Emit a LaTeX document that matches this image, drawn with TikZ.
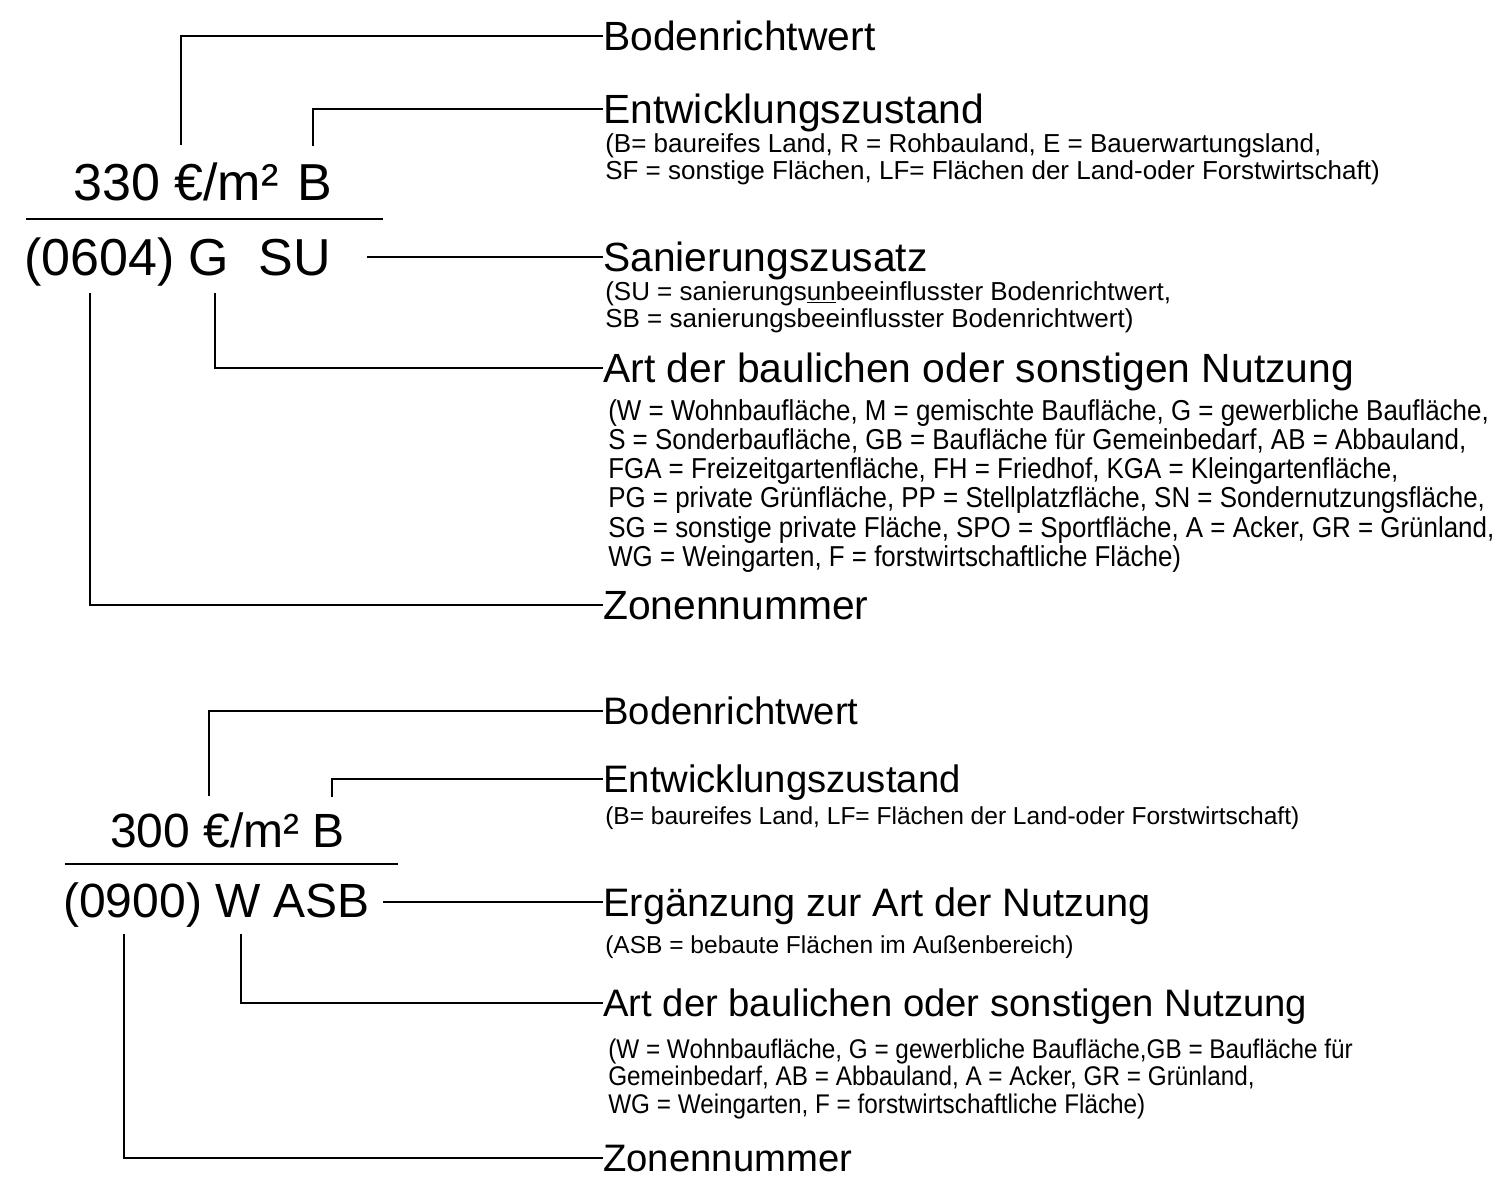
\documentclass[tikz,border=0pt]{standalone}
\usepackage{fontspec}
\setmainfont{Liberation Sans}
\newfontfamily\condfont[FakeStretch=0.9]{Liberation Sans}
\tikzset{
  conn/.style={line width=1.8pt},
  rulestyle/.style={line width=1.3pt},
  biglabA/.style={anchor=west, inner sep=0pt, font=\fontsize{30.6}{36}\selectfont, text height=21.9pt, text depth=0pt},
  biglabB/.style={anchor=west, inner sep=0pt, font=\fontsize{28.7}{34}\selectfont, text height=20.5pt, text depth=0pt},
  biglabBx/.style={anchor=west, inner sep=0pt, font=\fontsize{29.8}{35}\selectfont, text height=21.3pt, text depth=0pt},
  numA/.style={anchor=base west, inner sep=0pt, font=\fontsize{39}{46}\selectfont},
  numB/.style={anchor=base west, inner sep=0pt, font=\fontsize{36}{42}\selectfont},
  descA/.style={anchor=base west, inner sep=0pt, font=\fontsize{19.5}{20.25}\selectfont},
  descB/.style={anchor=base west, inner sep=0pt, font=\fontsize{18.4}{19.1}\selectfont},
  condA/.style={anchor=base west, inner sep=0pt, font=\condfont\fontsize{21.6}{21.15}\selectfont},
  condB/.style={anchor=base west, inner sep=0pt, font=\condfont\fontsize{20.25}{20.6}\selectfont},
}
\begin{document}
\begin{tikzpicture}[x=0.75pt,y=-0.75pt]
\useasboundingbox (0,0) rectangle (1502,1188);

% ---------- top block ----------
\node[numA] (numA1) at (73,200) {330 €/m²\hspace{0.08em} B};
\node[numA] (numA2) at (24,275) {(0604) G\ \ SU};
\coordinate (ruleAl) at (26,219);
\coordinate (ruleAr) at (383,219);
\draw[rulestyle] (ruleAl) -- (ruleAr);

\node[biglabA] (lbA1) at (603,36) {Bodenrichtwert};
\node[biglabA] (lbA2) at (603,109) {Entwicklungszustand};
\node[biglabA] (lbA3) at (603,257) {Sanierungszusatz};
\node[biglabA] (lbA4) at (603,368) {Art der baulichen oder sonstigen Nutzung};
\node[biglabA] (lbA5) at (603,605) {Zonennummer};

\node[descA] (descA2) at (605,152) {\begin{tabular}[t]{@{}l@{}}(B= baureifes Land, R = Rohbauland, E = Bauerwartungsland,\\SF = sonstige Flächen, LF= Flächen der Land-oder Forstwirtschaft)\end{tabular}};
\node[descA] (descA3) at (605,300) {\begin{tabular}[t]{@{}l@{}}(SU = sanierungs\underline{un}beeinflusster Bodenrichtwert,\\SB = sanierungsbeeinflusster Bodenrichtwert)\end{tabular}};
\node[condA] (descA4) at (608,420) {\begin{tabular}[t]{@{}l@{}}(W = Wohnbaufläche, M = gemischte Baufläche, G = gewerbliche Baufläche,\\S = Sonderbaufläche, GB = Baufläche für Gemeinbedarf, AB = Abbauland,\\FGA = Freizeitgartenfläche, FH = Friedhof, KGA = Kleingartenfläche,\\PG = private Grünfläche, PP = Stellplatzfläche, SN = Sondernutzungsfläche,\\SG = sonstige private Fläche, SPO = Sportfläche, A = Acker, GR = Grünland,\\WG = Weingarten, F = forstwirtschaftliche Fläche)\end{tabular}};

\coordinate (cA1) at (181,145);
\coordinate (cA2) at (313,146);
\coordinate (cA3) at (367,257);
\coordinate (cA4) at (215,293);
\coordinate (cA5) at (90,293);
\draw[conn] (cA1) |- (lbA1.west);
\draw[conn] (cA2) |- (lbA2.west);
\draw[conn] (cA3) -- (lbA3.west);
\draw[conn] (cA4) |- (lbA4.west);
\draw[conn] (cA5) |- (lbA5.west);

% ---------- bottom block ----------
\node[numB] (numB1) at (110,847) {300 €/m² B};
\node[numB] (numB2) at (63,917) {(0900) W ASB};
\coordinate (ruleBl) at (65,864);
\coordinate (ruleBr) at (398,864);
\draw[rulestyle] (ruleBl) -- (ruleBr);

\node[biglabB] (lbB1) at (603,711) {Bodenrichtwert};
\node[biglabB] (lbB2) at (603,779) {Entwicklungszustand};
\node[biglabBx] (lbB3) at (603,902) {Ergänzung zur Art der Nutzung};
\node[biglabB] (lbB4) at (603,1003) {Art der baulichen oder sonstigen Nutzung};
\node[biglabB] (lbB5) at (603,1158) {Zonennummer};

\node[descB] (descB2) at (605,824) {(B= baureifes Land, LF= Flächen der Land-oder Forstwirtschaft)};
\node[descB] (descB3) at (605,953) {(ASB = bebaute Flächen im Außenbereich)};
\node[condB] (descB4) at (608,1058) {\begin{tabular}[t]{@{}l@{}}(W = Wohnbaufläche, G = gewerbliche Baufläche,GB = Baufläche für\\Gemeinbedarf, AB = Abbauland, A = Acker, GR = Grünland,\\WG = Weingarten, F = forstwirtschaftliche Fläche)\end{tabular}};

\coordinate (cB1) at (209,796);
\coordinate (cB2) at (332,797);
\coordinate (cB3) at (383,902);
\coordinate (cB4) at (241,934);
\coordinate (cB5) at (124,934);
\draw[conn] (cB1) |- (lbB1.west);
\draw[conn] (cB2) |- (lbB2.west);
\draw[conn] (cB3) -- (lbB3.west);
\draw[conn] (cB4) |- (lbB4.west);
\draw[conn] (cB5) |- (lbB5.west);
\end{tikzpicture}
\end{document}
